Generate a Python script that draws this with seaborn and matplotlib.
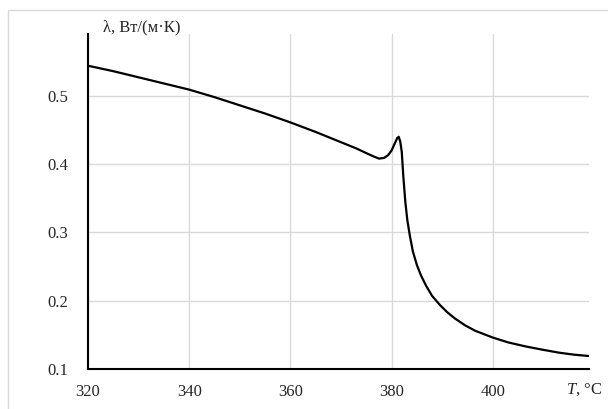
import matplotlib
matplotlib.use("Agg")
import matplotlib.pyplot as plt
import seaborn as sns
import pandas as pd
from matplotlib.patches import Rectangle

# Data
temperature = [320, 325, 330, 335, 340, 345, 350, 355, 360, 365, 370, 373, 375, 376.5,
               377.5, 378.5, 379.3, 380, 380.6, 381.1, 381.4, 381.7, 382.0, 382.3,
               382.7, 383.1, 383.6, 384.2, 385.0, 385.8, 386.8, 388.0, 389.5, 391.0,
               392.5, 394.5, 396.5, 400.0, 403.0, 406.5, 410.0, 413.0, 416.0, 419.0]
conductivity = [0.544, 0.536, 0.527, 0.518, 0.509, 0.498, 0.486, 0.474, 0.461, 0.447,
                0.432, 0.423, 0.416, 0.411, 0.408, 0.409, 0.413, 0.420, 0.430, 0.438,
                0.440, 0.433, 0.418, 0.383, 0.345, 0.318, 0.295, 0.272, 0.252, 0.237,
                0.222, 0.207, 0.194, 0.183, 0.174, 0.164, 0.156, 0.146, 0.139, 0.133,
                0.128, 0.124, 0.121, 0.119]
x_ticks = [320, 340, 360, 380, 400]
y_ticks = [0.1, 0.2, 0.3, 0.4, 0.5]

df = pd.DataFrame({"T": temperature, "lam": conductivity})

sns.set_style("white")
plt.rcParams["font.family"] = ["Liberation Serif", "DejaVu Serif"]
plt.rcParams["mathtext.fontset"] = "custom"
plt.rcParams["mathtext.it"] = "Liberation Serif:italic"
plt.rcParams["mathtext.rm"] = "Liberation Serif"

fig = plt.figure(figsize=(6.08, 4.09), dpi=100)
ax = fig.add_axes([88/608, 1 - 369/409, (589 - 88)/608, (369 - 34.3)/409])

sns.lineplot(data=df, x="T", y="lam", ax=ax, color="black", linewidth=1.6, sort=False)

ax.set_xlim(320, 419)
ax.set_ylim(0.1, 0.59)
ax.set_xticks(x_ticks)
ax.set_yticks(y_ticks)
ax.set_xticklabels([str(t) for t in x_ticks], fontsize=12)
ax.set_yticklabels([f"{t:.1f}" for t in y_ticks], fontsize=12)
ax.tick_params(axis="x", length=0, pad=11)
ax.tick_params(axis="y", length=0, pad=14)
ax.grid(True, color="#d9d9d9", linewidth=1)
ax.set_axisbelow(True)
ax.set_xlabel("")
ax.set_ylabel("")
for s in ["top", "right"]:
    ax.spines[s].set_visible(False)
for s in ["left", "bottom"]:
    ax.spines[s].set_color("black")
    ax.spines[s].set_linewidth(1.5)

fig.text(103/608, 1 - 27/409, "λ, Вт/(м·К)", fontsize=12, ha="left", va="center")
fig.text(566/608, 1 - 390/409, r"$\mathit{T}$, °C", fontsize=12, ha="left", va="center")

fig.add_artist(Rectangle((8/608, -0.1), 1.0, (409 - 10)/409 + 0.1,
                         transform=fig.transFigure, fill=False,
                         edgecolor="#d9d9d9", linewidth=1))

fig.savefig("out.png", dpi=100)
